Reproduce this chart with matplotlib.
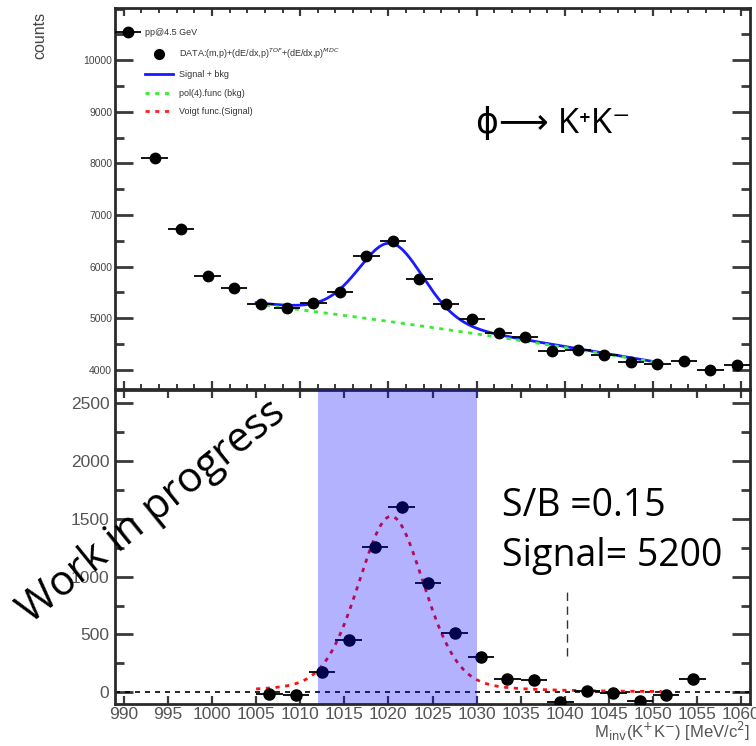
import numpy as np
import matplotlib
matplotlib.use("Agg")
import matplotlib.pyplot as plt
from matplotlib.ticker import MultipleLocator

# ---------------- data ----------------
top_x = [990.5, 993.5, 996.5, 999.5, 1002.5, 1005.5, 1008.5, 1011.5, 1014.5, 1017.5,
         1020.5, 1023.5, 1026.5, 1029.5, 1032.5, 1035.5, 1038.5, 1041.5, 1044.5,
         1047.5, 1050.5, 1053.5, 1056.5, 1059.5]
top_counts = [10540, 8100, 6730, 5825, 5580, 5270, 5195, 5290, 5505, 6215,
              6505, 5765, 5270, 4980, 4720, 4640, 4370, 4390, 4290,
              4155, 4115, 4175, 4000, 4095]

sub_x = [1006.5, 1009.5, 1012.5, 1015.5, 1018.5, 1021.5, 1024.5, 1027.5, 1030.5,
         1033.5, 1036.5, 1039.5, 1042.5, 1045.5, 1048.5, 1051.5, 1054.5]
sub_counts = [-17, -20, 173, 450, 1255, 1600, 944, 511, 303,
              113, 104, -87, 9, -9, -78, -26, 113]

bin_half_width = 1.5

# fit results (function parameters)
fit_range = (1005.0, 1051.0)
bkg_ref = 1005.5
bkg_coef = [5260.0, -20.75, -0.092]      # c0 + c1*u + c2*u^2, u = x - bkg_ref
sig_amp = 1520.0
sig_mean = 1020.3
sig_sigma = 3.8
sig_eta = 0.25

signal_window = (1012.0, 1030.0)

y_top_ticks = [4000, 5000, 6000, 7000, 8000, 9000, 10000]
x_ticks = list(range(990, 1061, 5))


def bkg(x):
    u = x - bkg_ref
    return bkg_coef[0] + bkg_coef[1] * u + bkg_coef[2] * u ** 2


def voigt(x):
    g = np.exp(-(x - sig_mean) ** 2 / (2 * sig_sigma ** 2))
    hw = 1.1774 * sig_sigma
    l = 1.0 / (1.0 + ((x - sig_mean) / hw) ** 2)
    return sig_amp * (sig_eta * l + (1 - sig_eta) * g)


W, H = 756, 746
fig = plt.figure(figsize=(W / 100, H / 100), dpi=100)

def rect(x0, y0, x1, y1):
    return [x0 / W, 1 - y1 / H, (x1 - x0) / W, (y1 - y0) / H]

ax1 = fig.add_axes(rect(115, 8, 750, 389))
ax2 = fig.add_axes(rect(115, 390, 750, 704))

frame_col = "#2a2a2a"
tick_col = "#3a3a3a"
for ax in (ax1, ax2):
    for s in ax.spines.values():
        s.set_linewidth(2.0)
        s.set_color(frame_col)
    ax.set_xlim(989, 1061)

# ---------------- top panel ----------------
xf = np.linspace(fit_range[0], fit_range[1], 400)
ax1.errorbar(top_x, top_counts, xerr=bin_half_width, fmt="o", color="black",
             ms=7.5, elinewidth=1.3, capsize=0, zorder=4, label="DATA")
l_sb, = ax1.plot(xf, bkg(xf) + voigt(xf), color="#1a1aff", lw=2.0, zorder=3)
l_bk, = ax1.plot(xf, bkg(xf), color="#33ee33", lw=2.0, ls=(0, (1.5, 2.0)), zorder=3)
l_sg, = ax1.plot([], [], color="#ff2020", lw=2.0, ls=(0, (1.5, 2.0)))
d_h, = ax1.plot([], [], "o", color="black", ms=7)

ax1.set_ylim(3630, 11010)
ax1.set_yticks(y_top_ticks)
ax1.yaxis.set_minor_locator(MultipleLocator(500))
ax1.xaxis.set_major_locator(MultipleLocator(10))
ax1.xaxis.set_minor_locator(MultipleLocator(2))
ax1.tick_params(axis="y", which="major", direction="in", length=13, width=2,
                left=True, right=True, labelsize=7.5, labelcolor="#444444",
                pad=2, color=tick_col)
ax1.tick_params(axis="y", which="minor", direction="in", length=6.5, width=2,
                left=True, right=True, color=tick_col)
ax1.tick_params(axis="x", which="major", direction="in", length=6, width=1.6,
                top=True, bottom=True, labelbottom=False, color=tick_col)
ax1.tick_params(axis="x", which="minor", direction="in", length=3.5, width=1.4,
                top=True, bottom=True, color=tick_col)
for lab in ax1.get_yticklabels():
    lab.set_family("Liberation Sans")

fig.text(40 / W, 1 - 35 / H, "counts", rotation=90, ha="center", va="center",
         fontsize=11.5, color="#444444", family="Liberation Sans")

leg = ax1.legend([d_h, l_sb, l_bk, l_sg],
                 ["DATA:(m,p)+(dE/dx,p)$^{TOF}$+(dE/dx,p)$^{MDC}$",
                  "Signal + bkg", "pol(4).func (bkg)", "Voigt func.(Signal)"],
                 title="pp@4.5 GeV", alignment="left", loc="upper left",
                 bbox_to_anchor=(0.038, 0.962), frameon=False,
                 prop={"family": "Liberation Sans", "size": 6.5},
                 title_fontproperties={"family": "Liberation Sans", "size": 6.5},
                 handlelength=3.2, handletextpad=0.6, labelspacing=1.05,
                 borderaxespad=0.2)
for t in leg.get_texts():
    t.set_color("#333333")
leg.get_title().set_color("#333333")

ax1.text(0.568, 0.672, "ϕ⟶ K⁺K⁻", transform=ax1.transAxes, fontsize=25,
         family=["Open Sans", "DejaVu Sans"], va="baseline", ha="left")

# ---------------- bottom panel ----------------
ax2.errorbar(sub_x, sub_counts, xerr=bin_half_width, fmt="o", color="black",
             ms=8, elinewidth=1.3, capsize=0, zorder=4)
ax2.plot(xf, voigt(xf), color="#ff1010", lw=2.0, ls=(0, (1.5, 2.0)), zorder=3)
ax2.axhline(0, color="black", lw=1.2, ls=(0, (3, 3)), zorder=2)
ax2.vlines(1040.2, 310, 900, color="#333333", lw=1.0, ls=(0, (6, 4)), zorder=2)
ax2.axvspan(signal_window[0], signal_window[1], color="#0000ff", alpha=0.30,
            lw=0, zorder=5)

ax2.set_ylim(-100, 2610)
ax2.yaxis.set_major_locator(MultipleLocator(500))
ax2.yaxis.set_minor_locator(MultipleLocator(250))
ax2.set_xticks(x_ticks)
ax2.tick_params(axis="y", which="major", direction="in", length=13, width=2,
                left=True, right=True, labelsize=12.5, labelcolor="#555555",
                pad=4, color=tick_col)
ax2.tick_params(axis="y", which="minor", direction="in", length=6.5, width=2,
                left=True, right=True, color=tick_col)
ax2.tick_params(axis="x", which="major", direction="in", length=6, width=1.6,
                top=True, bottom=True, labelsize=12.5, labelcolor="#555555",
                pad=2, color=tick_col)
for lab in ax2.get_yticklabels() + ax2.get_xticklabels():
    lab.set_family("Liberation Sans")

ax2.text(1.0, -0.052, r"M$_{\rm inv}$(K$^{+}$K$^{-}$) [MeV/c$^{2}$]",
         transform=ax2.transAxes, ha="right", va="top", fontsize=12,
         color="#555555", family="Liberation Sans")

ax2.text(0.61, 0.60, "S/B =0.15", transform=ax2.transAxes, fontsize=27,
         family="Open Sans", va="baseline", ha="left")
ax2.text(0.61, 0.44, "Signal= 5200", transform=ax2.transAxes, fontsize=27,
         family="Open Sans", va="baseline", ha="left")

fig.text(152 / W, 1 - 512 / H, "Work in progress", rotation=39,
         ha="center", va="center", fontsize=30, family="Open Sans",
         rotation_mode="anchor")

fig.savefig("out.png", dpi=100)
